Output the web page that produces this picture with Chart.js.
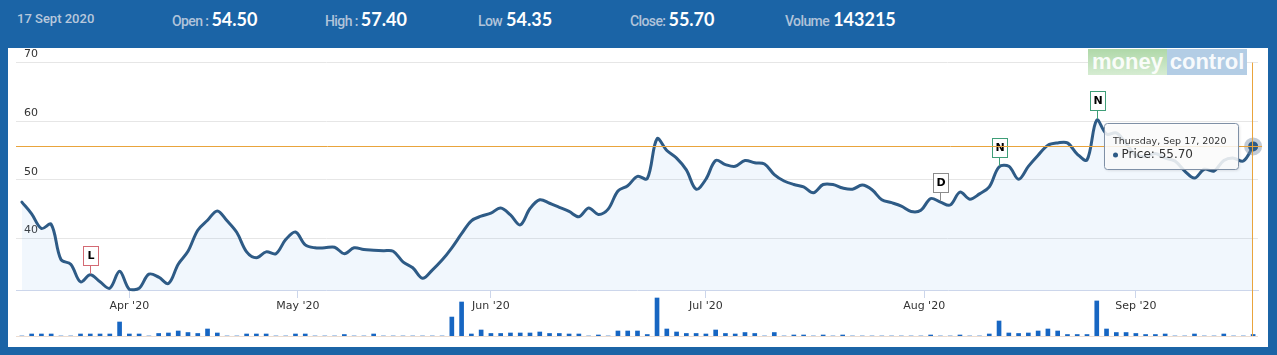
<!DOCTYPE html>
<html><head><meta charset="utf-8">
<script src="https://cdn.jsdelivr.net/npm/chart.js@4.4.1/dist/chart.umd.min.js"></script>
<style>
html,body{margin:0;padding:0;}
body{width:1277px;height:355px;background:#1b64a6;position:relative;overflow:hidden;font-family:Roboto,sans-serif;}
#panel{position:absolute;left:8px;top:48px;width:1260px;height:299px;background:#fff;}
.grp{position:absolute;top:7px;height:24px;line-height:24px;display:flex;align-items:baseline;white-space:nowrap;}
.lab{font-family:Roboto,sans-serif;font-size:14px;font-weight:500;color:#b0c3da;letter-spacing:-0.6px;}
.date{font-family:Roboto,sans-serif;font-size:13px;font-weight:500;color:#b8c8dc;}
.val{font-family:Lato,sans-serif;font-weight:700;font-size:18px;color:#fff;}
canvas{position:absolute;}
#priceC{left:8px;top:48px;z-index:2;}
#volC{left:8px;top:296px;z-index:1;}
.wm{position:absolute;top:49px;height:26px;line-height:26px;font-family:"Liberation Sans",Arial,sans-serif;font-weight:700;font-size:22px;color:rgba(255,255,255,0.92);text-align:center;z-index:3;}
#wm1{left:1088px;width:79px;background:linear-gradient(#afd8a8,#d6ecd2);}
#wm2{left:1167px;width:80px;background:#b3cde5;}
</style></head>
<body>
<div id="panel"></div>
<div class="grp" style="left:17px"><span class="date">17 Sept 2020</span></div>
<div class="grp" style="left:172px"><span class="lab">Open :</span><span class="val" style="margin-left:3px">54.50</span></div>
<div class="grp" style="left:325px"><span class="lab">High :</span><span class="val" style="margin-left:3px">57.40</span></div>
<div class="grp" style="left:478px"><span class="lab">Low</span><span class="val" style="margin-left:4px">54.35</span></div>
<div class="grp" style="left:630px"><span class="lab">Close:</span><span class="val" style="margin-left:3px">55.70</span></div>
<div class="grp" style="left:785px"><span class="lab">Volume</span><span class="val" style="margin-left:4px">143215</span></div>
<canvas id="volC" width="1260" height="41"></canvas>
<canvas id="priceC" width="1260" height="299"></canvas>
<div class="wm" id="wm1">money</div>
<div class="wm" id="wm2">control</div>
<script>
// ---- Data ----
const year = 2020;
const tradingMonths = [2,3,4,5,6,7,8];
const marDays = [17,18,19,20,23,24,25,26,27,30,31];
const aprDays = [1,3,7,8,9,13,15,16,17,20,21,22,23,24,27,28,29,30];
const mayDays = [4,5,6,7,8,11,12,13,14,15,18,19,20,21,22,26,27,28,29];
const junDays = [1,2,3,4,5,8,9,10,11,12,15,16,17,18,19,22,23,24,25,26,29,30];
const julDays = [1,2,3,6,7,8,9,10,13,14,15,16,17,20,21,22,23,24,27,28,29,30,31];
const augDays = [3,4,5,6,7,10,11,12,13,14,17,18,19,20,21,24,25,26,27,28,31];
const sepDays = [1,2,3,4,7,8,9,10,11,14,15,16,17];
const monthDays = [marDays,aprDays,mayDays,junDays,julDays,augDays,sepDays];

const prices = [
 46.2,44.2,41.7,42.4,36.4,35.6,32.6,33.8,32.6,31.5,
 34.4,31.3,31.5,33.9,33.4,32.3,35.6,37.8,41.4,43.1,
 44.7,43.0,41.0,37.7,36.7,37.7,37.4,39.8,41.1,38.9,
 38.4,38.4,38.5,37.4,38.4,38.1,38.0,37.9,37.8,36.0,
 35.0,33.2,34.6,36.3,38.4,40.8,43.0,43.8,44.3,45.2,
 44.0,42.3,45.1,46.6,46.0,45.3,44.6,43.7,45.2,44.1,
 45.0,48.1,49.0,50.6,50.2,57.0,55.0,53.7,51.7,48.4,
 50.1,53.3,52.6,52.3,53.3,52.9,52.7,50.9,49.8,49.2,
 48.8,47.8,49.2,49.2,48.6,48.4,49.1,48.3,46.6,46.1,
 45.5,44.6,44.8,46.8,46.2,45.7,47.9,46.7,47.6,48.8,
 52.2,52.3,50.1,52.3,54.2,55.9,56.3,56.3,54.4,53.4,
 60.2,57.8,58.0,56.2,54.2,54.0,54.5,53.7,53.2,51.5,
 50.3,51.8,51.5,53.3,53.7,53.2,55.7
];
const volumes = [
 0,190000,190000,190000,0,0,190000,190000,190000,190000,
 1330000,190000,190000,0,240000,285000,475000,330000,240000,665000,
 285000,0,0,190000,190000,190000,0,0,190000,190000,
 0,0,0,140000,0,0,190000,0,0,0,
 0,0,0,0,1800000,3230000,190000,570000,240000,240000,
 285000,285000,285000,380000,240000,240000,190000,190000,0,95000,
 0,475000,475000,475000,140000,3610000,665000,380000,240000,240000,
 190000,570000,240000,190000,330000,240000,0,330000,0,95000,
 95000,0,95000,0,95000,0,0,0,0,0,
 0,0,0,95000,0,0,95000,0,0,190000,
 1425000,285000,240000,285000,475000,665000,475000,140000,140000,140000,
 3330000,665000,330000,330000,240000,140000,140000,190000,0,0,
 190000,0,0,190000,0,0,143215
];
const yTicks = [40,50,60,70];
const tickMonths = [3,4,5,6,7,8];
const monthNames = ['Jan','Feb','Mar','Apr','May','Jun','Jul','Aug','Sep','Oct','Nov','Dec'];
const dayNames = ['Sunday','Monday','Tuesday','Wednesday','Thursday','Friday','Saturday'];
const flagIdx = [7,94,100,110];
const flagText = ['L','D','N','N'];
const flagColor = ['#d46a74','#8c8c8c','#3f9e78','#3f9e78'];

// ---- derived ----
const dates = [];
tradingMonths.forEach((m,k)=>monthDays[k].forEach(d=>dates.push(new Date(year,m,d))));
const monthTickPos = tickMonths.map(m=>{
  const t = new Date(year,m,1).getTime();
  for (let i=0;i<dates.length-1;i++){
    const a=dates[i].getTime(), b=dates[i+1].getTime();
    if (t>=a && t<b) return i + (t-a)/(b-a);
  }
  return dates.length-1;
});
const monthTickLabel = tickMonths.map(m=>monthNames[m]+" '20");

const LINE = '#2e5b86';
const ORANGE = '#e9a43c';
const XMIN = -0.6, XMAX = 126.5;

const overlay = {
  id:'overlay',
  afterDatasetsDraw(chart){
    const {ctx, chartArea:a, scales:{x,y}} = chart;
    const li = prices.length-1;
    const px = x.getPixelForValue(li), py = y.getPixelForValue(prices[li]);
    ctx.save();
    // flags
    flagIdx.forEach((fi,k)=>{
      const cx = Math.round(x.getPixelForValue(fi)), cy = y.getPixelForValue(prices[fi]);
      const bottom = Math.round(cy - 10);
      ctx.strokeStyle = flagColor[k]; ctx.lineWidth = 1;
      ctx.beginPath(); ctx.moveTo(cx+0.5,bottom); ctx.lineTo(cx+0.5,cy-1); ctx.stroke();
      ctx.fillStyle = '#fff';
      ctx.fillRect(cx-7,bottom-19,15,19);
      ctx.strokeRect(cx-7+0.5,bottom-19+0.5,15,19);
      ctx.fillStyle = '#000'; ctx.font = 'bold 11px "DejaVu Sans"';
      ctx.textAlign='center'; ctx.textBaseline='middle';
      ctx.fillText(flagText[k], cx+1, bottom-9);
    });
    // marker
    ctx.fillStyle = 'rgba(120,140,165,0.45)';
    ctx.beginPath(); ctx.arc(px,py,9,0,Math.PI*2); ctx.fill();
    ctx.fillStyle = LINE;
    ctx.beginPath(); ctx.arc(px,py,5,0,Math.PI*2); ctx.fill();
    // crosshairs
    ctx.strokeStyle = ORANGE; ctx.lineWidth = 1;
    ctx.beginPath();
    ctx.moveTo(a.left, Math.round(py)+0.5); ctx.lineTo(a.right+4, Math.round(py)+0.5);
    ctx.moveTo(Math.round(px)-0.5, a.top); ctx.lineTo(Math.round(px)-0.5, 288);
    ctx.stroke();
    // tooltip
    const bx = Math.round(px) - 149 + 0.5, by = Math.round(py) - 23 + 0.5, bw = 134, bh = 46;
    ctx.shadowColor = 'rgba(0,0,0,0.15)'; ctx.shadowBlur = 3; ctx.shadowOffsetX = 1; ctx.shadowOffsetY = 1;
    ctx.fillStyle = 'rgba(255,255,255,0.85)';
    ctx.beginPath(); ctx.roundRect(bx,by,bw,bh,3); ctx.fill();
    ctx.shadowColor = 'transparent';
    ctx.strokeStyle = '#7f90a6'; ctx.stroke();
    const d = dates[li];
    const head = dayNames[d.getDay()]+', '+monthNames[d.getMonth()]+' '+d.getDate()+', '+d.getFullYear();
    ctx.fillStyle = '#333'; ctx.textAlign='left'; ctx.textBaseline='alphabetic';
    ctx.font = '9.5px "DejaVu Sans"';
    ctx.fillText(head, bx+8.5, by+20);
    ctx.fillStyle = LINE;
    ctx.beginPath(); ctx.arc(bx+11, by+31.5, 2.5, 0, Math.PI*2); ctx.fill();
    ctx.fillStyle = '#333'; ctx.font = '12px "DejaVu Sans"';
    ctx.fillText('Price: '+prices[li].toFixed(2), bx+17, by+34.5);
    ctx.restore();
  }
};

new Chart(document.getElementById('priceC'), {
  type:'line',
  data:{datasets:[{
    data: prices.map((v,i)=>({x:i,y:v})),
    borderColor: LINE, borderWidth: 3, tension: 0.35,
    pointRadius: 0, fill: 'start', backgroundColor: 'rgba(124,181,236,0.11)',
    borderJoinStyle:'round', borderCapStyle:'round', clip: 6
  }]},
  options:{
    responsive:false, animation:false, devicePixelRatio:1,
    layout:{padding:{left:8,right:10,top:9,bottom:0}},
    plugins:{legend:{display:false}, tooltip:{enabled:false}},
    scales:{
      x:{type:'linear', min:XMIN, max:XMAX,
        afterBuildTicks:(s)=>{s.ticks = monthTickPos.map(v=>({value:v}));},
        afterFit:(s)=>{s.height = 57;},
        grid:{drawOnChartArea:false, drawTicks:true, tickLength:8, color:'#ccd6eb'},
        border:{color:'#ccd6eb'},
        ticks:{autoSkip:false, maxRotation:0, padding:2, color:'#333',
          font:{family:'DejaVu Sans', size:11},
          callback:(v)=>{const k = monthTickPos.findIndex(p=>Math.abs(p-v)<1e-6); return k>=0?monthTickLabel[k]:'';}}
      },
      y:{type:'linear', min:31.2, max:70,
        afterBuildTicks:(s)=>{s.ticks = yTicks.map(v=>({value:v}));},
        afterFit:(s)=>{s.width = 0;},
        grid:{color:'#e6e6e6', drawTicks:false},
        border:{display:false},
        ticks:{mirror:true, padding:8, labelOffset:-8, color:'#333',
          font:{family:'DejaVu Sans', size:11}}
      }
    }
  },
  plugins:[overlay]
});

const volBase = {
  id:'volBase',
  beforeDatasetsDraw(chart){
    const {ctx, chartArea:a} = chart;
    ctx.save(); ctx.strokeStyle = '#ecdcd0'; ctx.lineWidth = 1;
    ctx.beginPath(); ctx.moveTo(a.left, a.bottom+0.5); ctx.lineTo(a.right, a.bottom+0.5); ctx.stroke();
    ctx.restore();
  }
};
new Chart(document.getElementById('volC'), {
  type:'bar',
  data:{datasets:[{
    data: volumes.map((v,i)=>({x:i,y:v})),
    backgroundColor:'#1766c2', barThickness:4, borderWidth:0
  }]},
  options:{
    responsive:false, animation:false, devicePixelRatio:1,
    layout:{padding:{left:8,right:10,top:0,bottom:1}},
    plugins:{legend:{display:false}, tooltip:{enabled:false}},
    scales:{
      x:{type:'linear', min:XMIN, max:XMAX, display:false, offset:false},
      y:{min:0, max:3800000, display:false}
    }
  },
  plugins:[volBase]
});
</script>
</body></html>
